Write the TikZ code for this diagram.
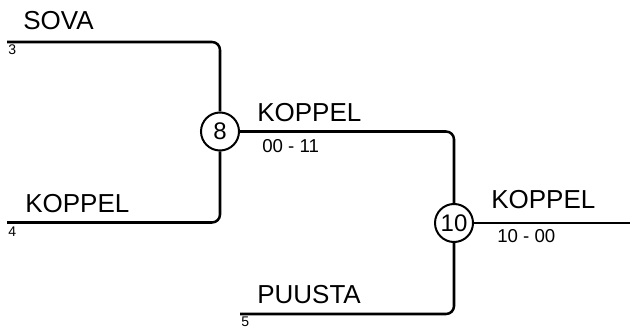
\documentclass[tikz,border=0pt]{standalone}
\usepackage{fontspec}
\setmainfont{Liberation Sans}

\begin{document}
\begin{tikzpicture}[x=0.75pt,y=0.75pt,yscale=-1,xscale=1,
  line/.style={line width=1.9pt,rounded corners=6},
  match/.style={circle,draw,line width=1.5pt,minimum size=28.5pt,inner sep=0pt,font=\fontsize{18}{20}\selectfont},
  team/.style={anchor=base west,inner sep=0pt,font=\fontsize{19.5}{22}\selectfont},
  seed/.style={anchor=base west,inner sep=0pt,font=\fontsize{10.5}{12}\selectfont},
  score/.style={anchor=base west,inner sep=0pt,font=\fontsize{14}{16}\selectfont}]
\useasboundingbox (0,0) rectangle (630,327);

% match nodes
\node [match] (m8) at (220,131.5) {8};
\node [match] (m10) at (454,223) {10};

% line ends
\coordinate (s3) at (7,42);
\coordinate (s4) at (7,222.5);
\coordinate (s5) at (240,314);
\coordinate (fin) at (632,223);

% bracket lines
\draw [line] (s3) -| (m8);
\draw [line] (s4) -| (m8);
\draw [line] (m8) -| (m10);
\draw [line] (s5) -| (m10);
\draw [line] (m10) -- (fin);

% Text Node
\node [team] (t3) at (23,30) {SOVA};
\node [seed] (n3) at (8,55) {3};
\node [team] (t4) at (25,213) {KOPPEL};
\node [seed] (n4) at (8,237) {4};
\node [team] (t8) at (257,122) {KOPPEL};
\node [score] (r8) at (262,153) {00 - 11};
\node [team] (t10) at (491,209) {KOPPEL};
\node [score] (r10) at (497,243) {10 - 00};
\node [team] (t5) at (257,303) {PUUSTA};
\node [seed] (n5) at (241,326) {5};

\end{tikzpicture}
\end{document}
